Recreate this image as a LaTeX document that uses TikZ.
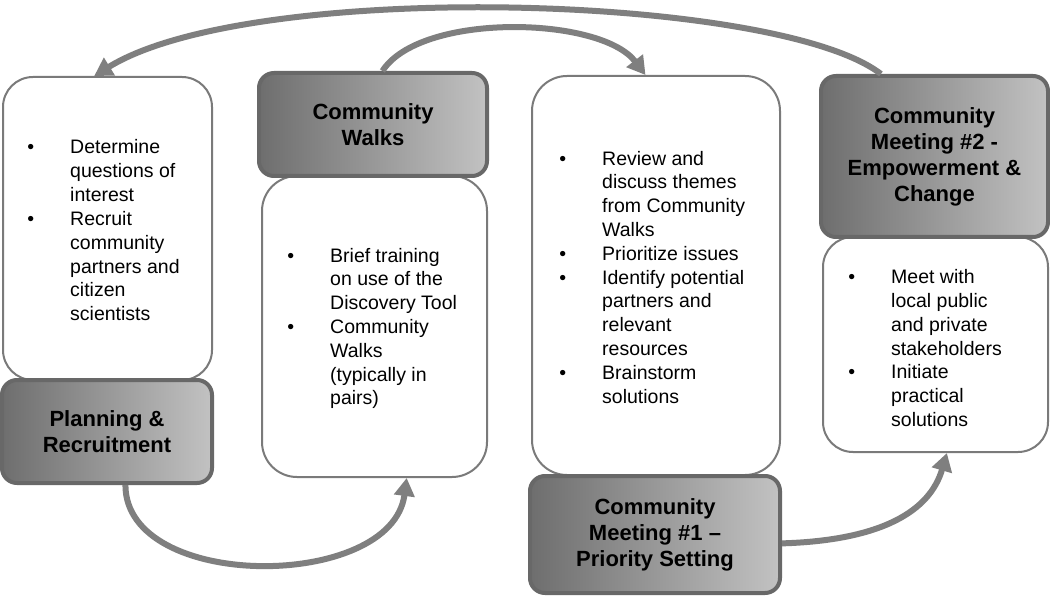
\documentclass[tikz,border=0pt]{standalone}
\usepackage{fontspec}
\setmainfont{Liberation Sans}
\usetikzlibrary{arrows.meta}
\definecolor{arrgray}{HTML}{7F7F7F}
\definecolor{boxline}{HTML}{7A7A7A}
\definecolor{gline}{HTML}{686868}
\definecolor{gdark}{HTML}{6E6E6E}
\definecolor{glight}{HTML}{C2C2C2}
\newcommand\bitem{\llap{\textbullet\hspace{36pt}}}
\begin{document}
\begin{tikzpicture}[x=1pt,y=-1pt,
  wbox/.style={draw=boxline, line width=2pt, rounded corners=30pt, fill=white, inner sep=0pt},
  gbox/.style={draw=gline, line width=4pt, rounded corners=15pt, left color=gdark, right color=glight,
    inner sep=0pt, font=\fontsize{22}{26}\selectfont\bfseries, align=center},
  btext/.style={anchor=base west, inner sep=0pt, align=left, font=\fontsize{19.5}{23.8}\selectfont},
  conn/.style={draw=arrgray, line width=6pt, -{Triangle[length=18pt,width=20pt]}}
]
\useasboundingbox[fill=white] (0,0) rectangle (1050,596);

% white boxes
\node[wbox, minimum width=209pt, minimum height=303pt] (w1) at (107.5,228.5) {};
\node[wbox, minimum width=225pt, minimum height=301pt, rounded corners=35pt] (w2) at (374.5,326.5) {};
\node[wbox, minimum width=248pt, minimum height=399pt, rounded corners=35pt] (w3) at (656,275.5) {};
\node[wbox, minimum width=225pt, minimum height=215pt] (w4) at (935.5,344.5) {};

% gray boxes
\node[gbox, minimum width=210pt, minimum height=103pt] (g1) at (107,431.5) {Planning \&\\Recruitment};
\node[gbox, minimum width=228pt, minimum height=103pt] (g2) at (373,124.5) {Community\\Walks};
\node[gbox, minimum width=250pt, minimum height=117pt] (g3) at (655,534.5) {Community\\Meeting \#1 --\\Priority Setting};
\node[gbox, minimum width=227pt, minimum height=161pt] (g4) at (934.5,156.5) {Community\\Meeting \#2 -\\Empowerment \&\\Change};

% bullet texts (base anchor = baseline of last line)
\node[btext] (t1) at (70,320.6) {\bitem Determine\\questions of\\interest\\\bitem Recruit\\community\\partners and\\citizen\\scientists};
\node[btext] (t2) at (330,404.8) {\bitem Brief training\\on use of the\\Discovery Tool\\\bitem Community\\Walks\\(typically in\\pairs)};
\node[btext] (t3) at (602,403) {\bitem Review and\\discuss themes\\from Community\\Walks\\\bitem Prioritize issues\\\bitem Identify potential\\partners and\\relevant\\resources\\\bitem Brainstorm\\solutions};
\node[btext] (t4) at (891,426.5) {\bitem Meet with\\local public\\and private\\stakeholders\\\bitem Initiate\\practical\\solutions};

% connectors
\draw[conn] (g4.123) .. controls +(-103,-80) and +(157,-97) .. (w1.95);
\draw[conn] (g2.80) .. controls +(38,-59) and +(-45,-59) .. (w3.93);
\draw[conn] (g1.-71) .. controls +(0,107) and +(-15,113) .. (w2.-78.5);
\draw[conn] (g3.-4) .. controls +(100,-3) and +(-17,58) .. (w4.-84);
\end{tikzpicture}
\end{document}
